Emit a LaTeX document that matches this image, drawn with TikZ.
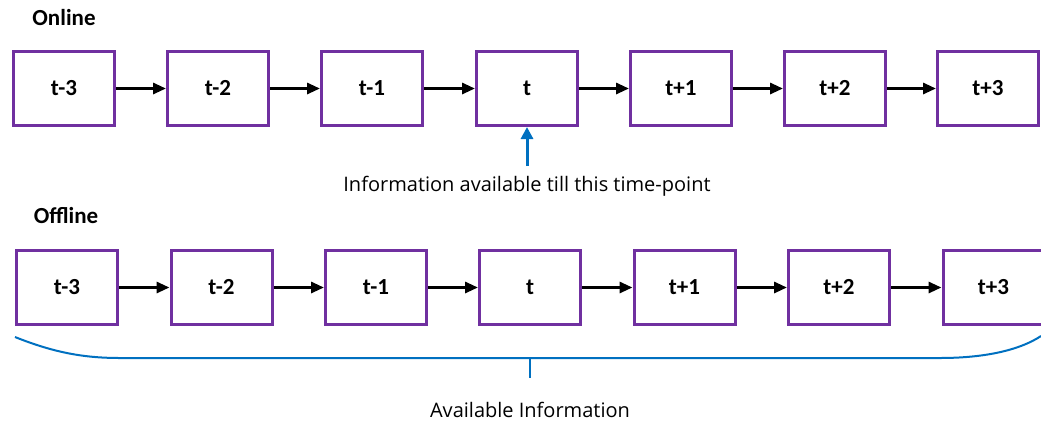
\documentclass[tikz,border=0pt]{standalone}
\usepackage{fontspec}
\setmainfont{Carlito}
\newfontfamily\notefont{Open Sans}
\usepackage{xcolor}
\usetikzlibrary{arrows.meta,positioning}
\definecolor{boxpurple}{RGB}{112,48,160}
\definecolor{infoblue}{RGB}{0,112,192}
\tikzset{stepbox/.style={draw=boxpurple, line width=3pt, minimum width=101pt, minimum height=74pt, inner sep=0pt, font=\bfseries\fontsize{23}{27}\selectfont}}
\tikzset{link/.style={line width=3pt, -{Triangle[length=13pt,width=11pt]}}}
\tikzset{rowtitle/.style={font=\bfseries\fontsize{23}{27}\selectfont}}
\tikzset{note/.style={font=\notefont\fontsize{20}{24}\selectfont}}

\begin{document}
\begin{tikzpicture}[x=1pt,y=-1pt]
\useasboundingbox (0,0) rectangle (1041,424);
% online row
\node[rowtitle] (online) at (64,18) {Online};
\node[stepbox] (on1) at (64,88.5) {t-3};
\node[stepbox] (on2) at (218,88.5) {t-2};
\node[stepbox] (on3) at (372,88.5) {t-1};
\node[stepbox] (on4) at (527,88.5) {t};
\node[stepbox] (on5) at (681,88.5) {t+1};
\node[stepbox] (on6) at (835,88.5) {t+2};
\node[stepbox] (on7) at (988,88.5) {t+3};
\draw[link] (on1) -- (on2);
\draw[link] (on2) -- (on3);
\draw[link] (on3) -- (on4);
\draw[link] (on4) -- (on5);
\draw[link] (on5) -- (on6);
\draw[link] (on6) -- (on7);
\node[note] (tillnow) at (527,186) {Information available till this time-point};
\coordinate (tip) at (527,166);
\draw[infoblue, line width=3pt, -{Triangle[length=12pt,width=12pt]}] (tip) -- (on4.south);
% offline row
\node[rowtitle] (offline) at (66,216) {Offline};
\node[stepbox] (off1) at (67,287.5) {t-3};
\node[stepbox] (off2) at (221.5,287.5) {t-2};
\node[stepbox] (off3) at (376,287.5) {t-1};
\node[stepbox] (off4) at (530,287.5) {t};
\node[stepbox] (off5) at (684.5,287.5) {t+1};
\node[stepbox] (off6) at (839,287.5) {t+2};
\node[stepbox] (off7) at (993.5,287.5) {t+3};
\draw[link] (off1) -- (off2);
\draw[link] (off2) -- (off3);
\draw[link] (off3) -- (off4);
\draw[link] (off4) -- (off5);
\draw[link] (off5) -- (off6);
\draw[link] (off6) -- (off7);
\draw[infoblue, line width=2pt] (15,337) .. controls (55,353) and (85,358) .. (120,358) -- (940,358) .. controls (985,358) and (1020,350) .. (1041,336);
\draw[infoblue, line width=2pt] (530,358) -- (530,378);
\node[note] (allinfo) at (530,410) {Available Information};
\end{tikzpicture}
\end{document}
